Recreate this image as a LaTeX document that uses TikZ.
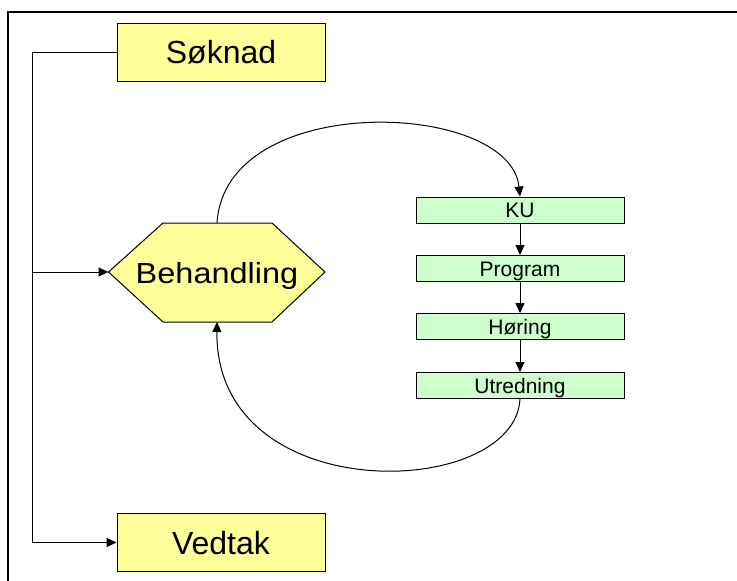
\documentclass[tikz,border=0pt]{standalone}
\usepackage{fontspec}
\setmainfont{Liberation Sans}
\usetikzlibrary{arrows.meta}
\definecolor{gul}{HTML}{FFFF99}
\definecolor{gronn}{HTML}{CCFFCC}
\tikzset{
  hovedboks/.style={draw, fill=gul, minimum width=208pt, minimum height=58pt, inner sep=0pt,
    text height=23pt, text depth=0pt, font=\fontsize{32}{36}\selectfont},
  trinnboks/.style={draw, fill=gronn, minimum width=208pt, minimum height=26pt, inner sep=0pt,
    text height=15pt, text depth=0pt, font=\fontsize{21}{24}\selectfont},
  pil/.style={-{Triangle[length=10pt,width=9pt]}},
}
\begin{document}
\begin{tikzpicture}[x=1pt, y=-1pt, line width=1pt]
\useasboundingbox (0,0) rectangle (737,581);
% Ramme
\draw[line width=2pt] (8,581) -- (8,12) -- (737,12);
% Søknad og vedtak
\node[hovedboks] (soknad) at (221,52) {Søknad};
\node[hovedboks] (vedtak) at (221,542.5) {Vedtak};
% Sekskant
\draw[fill=gul] (108.5,272) -- (163,223) -- (272,223) -- (325,272) -- (272,322) -- (163,322) -- cycle;
\node[inner sep=0pt, text height=21pt, text depth=0pt, font=\fontsize{29}{32}\selectfont] (beh) at (217,272.5) {\scalebox{1.12}[1]{Behandling}};
\coordinate (behvest) at (108.5,272);
\coordinate (behtopp) at (217,223);
\coordinate (behbunn) at (217,322);
\coordinate (gren) at (33,272);
% Trinn
\node[trinnboks] (ku) at (520,210) {KU};
\node[trinnboks] (program) at (520,268.5) {Program};
\node[trinnboks] (horing) at (520,326.5) {Høring};
\node[trinnboks] (utredning) at (520,385.5) {Utredning};
% Piler
\draw[pil] (soknad.west) -- ++(-84,0) |- (vedtak.west);
\draw[pil] (gren) -- (behvest);
\draw[pil] (ku) -- (program);
\draw[pil] (program) -- (horing);
\draw[pil] (horing) -- (utredning);
\draw[pil] (behtopp) .. controls (225,90) and (510,100) .. (ku.north);
\draw[pil] (utredning.south) .. controls (515,500) and (215,510) .. (behbunn);
\end{tikzpicture}
\end{document}
